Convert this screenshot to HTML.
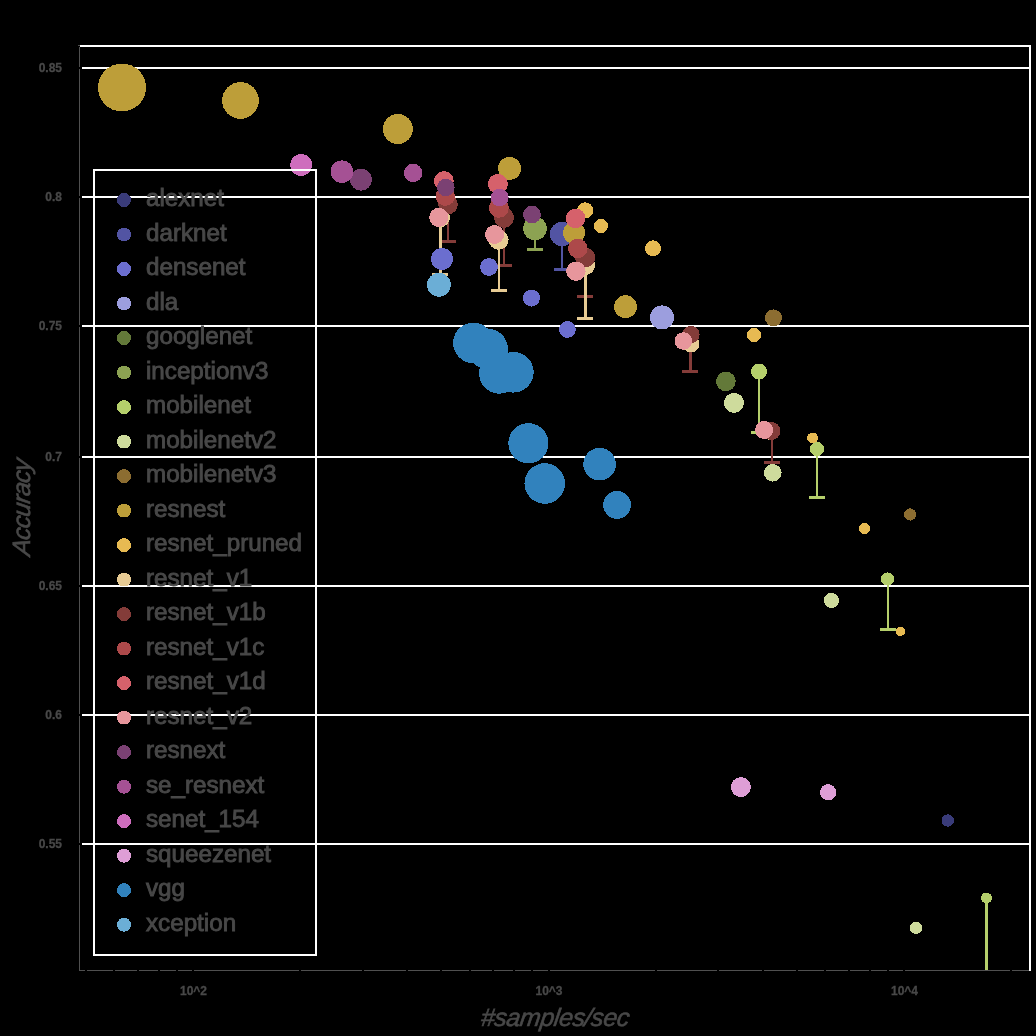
<!DOCTYPE html><html><head><meta charset="utf-8"><style>html,body{margin:0;padding:0;background:#000;overflow:hidden}svg{display:block;will-change:transform}text{font-family:"Liberation Sans",sans-serif}</style></head><body>
<svg width="1036" height="1036" viewBox="0 0 1036 1036">
<rect x="0" y="0" width="1036" height="1036" fill="#000"/>
<g shape-rendering="crispEdges">
<rect x="82" y="67" width="947" height="2" fill="#fff"/>
<rect x="82" y="196" width="947" height="2" fill="#fff"/>
<rect x="82" y="325" width="947" height="2" fill="#fff"/>
<rect x="82" y="456" width="947" height="2" fill="#fff"/>
<rect x="82" y="585" width="947" height="2" fill="#fff"/>
<rect x="82" y="714" width="947" height="2" fill="#fff"/>
<rect x="82" y="843" width="947" height="2" fill="#fff"/>
<rect x="80" y="45" width="951" height="2" fill="#fff"/>
<rect x="78" y="45" width="2" height="1" fill="#505050"/>
<rect x="1029" y="45" width="2" height="926" fill="#fff"/>
<rect x="79" y="47" width="1" height="924" fill="#505050"/>
<rect x="79" y="67" width="1" height="2" fill="#000"/>
<rect x="79" y="196" width="1" height="2" fill="#000"/>
<rect x="79" y="325" width="1" height="2" fill="#000"/>
<rect x="79" y="456" width="1" height="2" fill="#000"/>
<rect x="79" y="585" width="1" height="2" fill="#000"/>
<rect x="79" y="714" width="1" height="2" fill="#000"/>
<rect x="79" y="843" width="1" height="2" fill="#000"/>
<rect x="79" y="970" width="950" height="1" fill="#505050"/>
<rect x="85" y="970" width="2" height="1" fill="#000"/>
<rect x="113" y="970" width="2" height="1" fill="#000"/>
<rect x="137" y="970" width="2" height="1" fill="#000"/>
<rect x="158" y="970" width="2" height="1" fill="#000"/>
<rect x="176" y="970" width="2" height="1" fill="#000"/>
<rect x="192" y="970" width="2" height="1" fill="#000"/>
<rect x="299" y="970" width="2" height="1" fill="#000"/>
<rect x="362" y="970" width="2" height="1" fill="#000"/>
<rect x="406" y="970" width="2" height="1" fill="#000"/>
<rect x="440" y="970" width="2" height="1" fill="#000"/>
<rect x="469" y="970" width="2" height="1" fill="#000"/>
<rect x="492" y="970" width="2" height="1" fill="#000"/>
<rect x="513" y="970" width="2" height="1" fill="#000"/>
<rect x="531" y="970" width="2" height="1" fill="#000"/>
<rect x="548" y="970" width="2" height="1" fill="#000"/>
<rect x="655" y="970" width="2" height="1" fill="#000"/>
<rect x="717" y="970" width="2" height="1" fill="#000"/>
<rect x="762" y="970" width="2" height="1" fill="#000"/>
<rect x="796" y="970" width="2" height="1" fill="#000"/>
<rect x="824" y="970" width="2" height="1" fill="#000"/>
<rect x="848" y="970" width="2" height="1" fill="#000"/>
<rect x="869" y="970" width="2" height="1" fill="#000"/>
<rect x="887" y="970" width="2" height="1" fill="#000"/>
<rect x="903" y="970" width="2" height="1" fill="#000"/>
<rect x="1010" y="970" width="2" height="1" fill="#000"/>
</g>
<text x="62" y="72.3" font-size="12" text-anchor="end" fill="#484848" stroke="#484848" stroke-width="0.3" font-weight="bold">0.85</text>
<text x="62" y="201.3" font-size="12" text-anchor="end" fill="#484848" stroke="#484848" stroke-width="0.3" font-weight="bold">0.8</text>
<text x="62" y="330.3" font-size="12" text-anchor="end" fill="#484848" stroke="#484848" stroke-width="0.3" font-weight="bold">0.75</text>
<text x="62" y="461.3" font-size="12" text-anchor="end" fill="#484848" stroke="#484848" stroke-width="0.3" font-weight="bold">0.7</text>
<text x="62" y="590.3" font-size="12" text-anchor="end" fill="#484848" stroke="#484848" stroke-width="0.3" font-weight="bold">0.65</text>
<text x="62" y="719.3" font-size="12" text-anchor="end" fill="#484848" stroke="#484848" stroke-width="0.3" font-weight="bold">0.6</text>
<text x="62" y="848.3" font-size="12" text-anchor="end" fill="#484848" stroke="#484848" stroke-width="0.3" font-weight="bold">0.55</text>
<text x="193.5" y="995" font-size="12" text-anchor="middle" fill="#484848" stroke="#484848" stroke-width="0.3" font-weight="bold">10^2</text>
<text x="549.0" y="995" font-size="12" text-anchor="middle" fill="#484848" stroke="#484848" stroke-width="0.3" font-weight="bold">10^3</text>
<text x="904.5" y="995" font-size="12" text-anchor="middle" fill="#484848" stroke="#484848" stroke-width="0.3" font-weight="bold">10^4</text>
<text transform="translate(554,1026) skewX(-8)" x="0" y="0" font-size="25" letter-spacing="-0.4" font-style="italic" text-anchor="middle" fill="#484848" stroke="#484848" stroke-width="0.6">#samples/sec</text>
<text transform="translate(30,508.5) rotate(-90) skewX(-8)" x="0" y="0" font-size="25" letter-spacing="-0.85" font-style="italic" text-anchor="middle" fill="#484848" stroke="#484848" stroke-width="0.6">Accuracy</text>
<g shape-rendering="crispEdges">
<rect x="447.0" y="204.5" width="2.4" height="37.0" fill="#843c39"/>
<rect x="440.0" y="240.0" width="16" height="3" fill="#843c39"/>
<rect x="502.5" y="217.8" width="2.4" height="47.7" fill="#843c39"/>
<rect x="495.5" y="264.0" width="16" height="3" fill="#843c39"/>
<rect x="584.0" y="257.5" width="2.4" height="39.3" fill="#843c39"/>
<rect x="577.0" y="295.3" width="16" height="3" fill="#843c39"/>
<rect x="689.4" y="334.5" width="2.4" height="36.5" fill="#843c39"/>
<rect x="682.4" y="369.5" width="16" height="3" fill="#843c39"/>
<rect x="771.0" y="431.0" width="2.4" height="31.4" fill="#843c39"/>
<rect x="764.0" y="460.9" width="16" height="3" fill="#843c39"/>
<rect x="439.3" y="217.5" width="2.4" height="57.0" fill="#e7cb94"/>
<rect x="432.3" y="273.0" width="16" height="3" fill="#e7cb94"/>
<rect x="497.5" y="239.9" width="2.4" height="50.6" fill="#e7cb94"/>
<rect x="490.5" y="289.0" width="16" height="3" fill="#e7cb94"/>
<rect x="533.8" y="228.5" width="2.4" height="21.0" fill="#8ca252"/>
<rect x="526.8" y="248.0" width="16" height="3" fill="#8ca252"/>
<rect x="561.0" y="234.0" width="2.4" height="35.8" fill="#5254a3"/>
<rect x="554.0" y="268.3" width="16" height="3" fill="#5254a3"/>
<rect x="584.2" y="265.0" width="2.4" height="53.9" fill="#e7cb94"/>
<rect x="577.2" y="317.4" width="16" height="3" fill="#e7cb94"/>
<rect x="757.9" y="371.6" width="2.4" height="61.0" fill="#b5cf6b"/>
<rect x="750.9" y="431.1" width="16" height="3" fill="#b5cf6b"/>
<rect x="816.0" y="449.0" width="2.4" height="48.6" fill="#b5cf6b"/>
<rect x="809.0" y="496.1" width="16" height="3" fill="#b5cf6b"/>
<rect x="886.6" y="579.0" width="2.4" height="50.5" fill="#b5cf6b"/>
<rect x="879.6" y="628.0" width="16" height="3" fill="#b5cf6b"/>
<rect x="985.4" y="898.0" width="2.4" height="72.0" fill="#b5cf6b"/>
</g>
<g shape-rendering="crispEdges">
<circle cx="947.8" cy="820.5" r="6.2" fill="#393b79"/>
<circle cx="562" cy="234" r="12.1" fill="#5254a3"/>
<circle cx="442" cy="259" r="11" fill="#6b6ecf"/>
<circle cx="489" cy="267" r="8.9" fill="#6b6ecf"/>
<circle cx="531.5" cy="298" r="8.5" fill="#6b6ecf"/>
<circle cx="567.4" cy="329.5" r="8.4" fill="#6b6ecf"/>
<circle cx="662" cy="317.4" r="12" fill="#9c9ede"/>
<circle cx="725.9" cy="381.4" r="9.8" fill="#637939"/>
<circle cx="535" cy="228.5" r="11.8" fill="#8ca252"/>
<circle cx="759" cy="371.6" r="8" fill="#b5cf6b"/>
<circle cx="817.1" cy="449" r="7.1" fill="#b5cf6b"/>
<circle cx="887.4" cy="579" r="6.6" fill="#b5cf6b"/>
<circle cx="986.5" cy="898" r="5.5" fill="#b5cf6b"/>
<circle cx="734" cy="402.9" r="10" fill="#cedb9c"/>
<circle cx="772.8" cy="472.8" r="8.8" fill="#cedb9c"/>
<circle cx="831.5" cy="600.5" r="7.6" fill="#cedb9c"/>
<circle cx="916" cy="927.8" r="6.2" fill="#cedb9c"/>
<circle cx="773.5" cy="317.9" r="8.5" fill="#8c6d31"/>
<circle cx="910.1" cy="514.5" r="6.1" fill="#8c6d31"/>
<circle cx="122" cy="87.5" r="24" fill="#bd9e39"/>
<circle cx="240.5" cy="100.5" r="18.4" fill="#bd9e39"/>
<circle cx="397.9" cy="129" r="15" fill="#bd9e39"/>
<circle cx="509.6" cy="168.4" r="11.5" fill="#bd9e39"/>
<circle cx="574.1" cy="232.8" r="11" fill="#bd9e39"/>
<circle cx="625.5" cy="306.7" r="11.4" fill="#bd9e39"/>
<circle cx="585.1" cy="210.4" r="8.1" fill="#e7ba52"/>
<circle cx="601" cy="226" r="7" fill="#e7ba52"/>
<circle cx="653" cy="248.3" r="8" fill="#e7ba52"/>
<circle cx="754" cy="334.9" r="7.1" fill="#e7ba52"/>
<circle cx="812.6" cy="437.9" r="5.4" fill="#e7ba52"/>
<circle cx="864.5" cy="528.4" r="5.5" fill="#e7ba52"/>
<circle cx="900.5" cy="631.4" r="4.6" fill="#e7ba52"/>
<circle cx="440.3" cy="217.5" r="9.7" fill="#e7cb94"/>
<circle cx="498.7" cy="239.9" r="9.9" fill="#e7cb94"/>
<circle cx="585.1" cy="265" r="10" fill="#e7cb94"/>
<circle cx="691" cy="344" r="8.5" fill="#e7cb94"/>
<circle cx="771" cy="431" r="9" fill="#e7cb94"/>
<circle cx="448" cy="204.5" r="9.8" fill="#843c39"/>
<circle cx="504" cy="217.8" r="10" fill="#843c39"/>
<circle cx="585.1" cy="257.5" r="10" fill="#843c39"/>
<circle cx="691" cy="334.5" r="8.7" fill="#843c39"/>
<circle cx="771.5" cy="431" r="9" fill="#843c39"/>
<circle cx="445.3" cy="196.2" r="9.7" fill="#ad494a"/>
<circle cx="498.9" cy="207.9" r="9.9" fill="#ad494a"/>
<circle cx="577.8" cy="248.4" r="9.8" fill="#ad494a"/>
<circle cx="443.9" cy="181" r="9.9" fill="#d6616b"/>
<circle cx="497.9" cy="183.9" r="10" fill="#d6616b"/>
<circle cx="575.6" cy="218.4" r="9.8" fill="#d6616b"/>
<circle cx="438.8" cy="217.4" r="9.6" fill="#e7969c"/>
<circle cx="494.6" cy="234.5" r="9.5" fill="#e7969c"/>
<circle cx="575.9" cy="271.2" r="9.7" fill="#e7969c"/>
<circle cx="683.3" cy="341" r="8.8" fill="#e7969c"/>
<circle cx="764.1" cy="430" r="9" fill="#e7969c"/>
<circle cx="361" cy="179.7" r="10.9" fill="#7b4173"/>
<circle cx="445.8" cy="187.5" r="8.8" fill="#7b4173"/>
<circle cx="532" cy="214.6" r="8.9" fill="#7b4173"/>
<circle cx="341.9" cy="171.7" r="11.3" fill="#a55194"/>
<circle cx="413.2" cy="172.9" r="9.2" fill="#a55194"/>
<circle cx="499.7" cy="197.5" r="8.9" fill="#a55194"/>
<circle cx="301.2" cy="165" r="10.9" fill="#ce6dbd"/>
<circle cx="740.9" cy="787.1" r="10" fill="#de9ed6"/>
<circle cx="828.1" cy="792.3" r="8.1" fill="#de9ed6"/>
<circle cx="473.4" cy="342.9" r="20.3" fill="#3182bd"/>
<circle cx="487.6" cy="348.9" r="20.3" fill="#3182bd"/>
<circle cx="499.4" cy="373.4" r="20.3" fill="#3182bd"/>
<circle cx="513.4" cy="372.3" r="20.3" fill="#3182bd"/>
<circle cx="528.4" cy="443.3" r="20.1" fill="#3182bd"/>
<circle cx="544.8" cy="483.5" r="20.3" fill="#3182bd"/>
<circle cx="599.6" cy="464.2" r="16.3" fill="#3182bd"/>
<circle cx="617.1" cy="504.9" r="13.9" fill="#3182bd"/>
<circle cx="438.9" cy="284.8" r="11.9" fill="#6baed6"/>
</g>
<g shape-rendering="crispEdges" fill="#fff">
<rect x="93" y="169" width="224" height="2"/><rect x="93" y="954" width="224" height="2"/>
<rect x="93" y="169" width="2" height="787"/><rect x="315" y="169" width="2" height="787"/>
</g>
<circle cx="124" cy="200.0" r="7" fill="#393b79" shape-rendering="crispEdges"/>
<text x="146" y="206.0" font-size="24.2" fill="#484848" stroke="#484848" stroke-width="0.9">alexnet</text>
<circle cx="124" cy="234.5" r="7" fill="#5254a3" shape-rendering="crispEdges"/>
<text x="146" y="240.5" font-size="24.2" fill="#484848" stroke="#484848" stroke-width="0.9">darknet</text>
<circle cx="124" cy="269.0" r="7" fill="#6b6ecf" shape-rendering="crispEdges"/>
<text x="146" y="275.0" font-size="24.2" fill="#484848" stroke="#484848" stroke-width="0.9">densenet</text>
<circle cx="124" cy="303.5" r="7" fill="#9c9ede" shape-rendering="crispEdges"/>
<text x="146" y="309.5" font-size="24.2" fill="#484848" stroke="#484848" stroke-width="0.9">dla</text>
<circle cx="124" cy="338.0" r="7" fill="#637939" shape-rendering="crispEdges"/>
<text x="146" y="344.0" font-size="24.2" fill="#484848" stroke="#484848" stroke-width="0.9">googlenet</text>
<circle cx="124" cy="372.5" r="7" fill="#8ca252" shape-rendering="crispEdges"/>
<text x="146" y="378.5" font-size="24.2" fill="#484848" stroke="#484848" stroke-width="0.9">inceptionv3</text>
<circle cx="124" cy="407.1" r="7" fill="#b5cf6b" shape-rendering="crispEdges"/>
<text x="146" y="413.1" font-size="24.2" fill="#484848" stroke="#484848" stroke-width="0.9">mobilenet</text>
<circle cx="124" cy="441.6" r="7" fill="#cedb9c" shape-rendering="crispEdges"/>
<text x="146" y="447.6" font-size="24.2" fill="#484848" stroke="#484848" stroke-width="0.9">mobilenetv2</text>
<circle cx="124" cy="476.1" r="7" fill="#8c6d31" shape-rendering="crispEdges"/>
<text x="146" y="482.1" font-size="24.2" fill="#484848" stroke="#484848" stroke-width="0.9">mobilenetv3</text>
<circle cx="124" cy="510.6" r="7" fill="#bd9e39" shape-rendering="crispEdges"/>
<text x="146" y="516.6" font-size="24.2" fill="#484848" stroke="#484848" stroke-width="0.9">resnest</text>
<circle cx="124" cy="545.1" r="7" fill="#e7ba52" shape-rendering="crispEdges"/>
<text x="146" y="551.1" font-size="24.2" fill="#484848" stroke="#484848" stroke-width="0.9">resnet_pruned</text>
<circle cx="124" cy="579.6" r="7" fill="#e7cb94" shape-rendering="crispEdges"/>
<text x="146" y="585.6" font-size="24.2" fill="#484848" stroke="#484848" stroke-width="0.9">resnet_v1</text>
<circle cx="124" cy="614.1" r="7" fill="#843c39" shape-rendering="crispEdges"/>
<text x="146" y="620.1" font-size="24.2" fill="#484848" stroke="#484848" stroke-width="0.9">resnet_v1b</text>
<circle cx="124" cy="648.6" r="7" fill="#ad494a" shape-rendering="crispEdges"/>
<text x="146" y="654.6" font-size="24.2" fill="#484848" stroke="#484848" stroke-width="0.9">resnet_v1c</text>
<circle cx="124" cy="683.1" r="7" fill="#d6616b" shape-rendering="crispEdges"/>
<text x="146" y="689.1" font-size="24.2" fill="#484848" stroke="#484848" stroke-width="0.9">resnet_v1d</text>
<circle cx="124" cy="717.6" r="7" fill="#e7969c" shape-rendering="crispEdges"/>
<text x="146" y="723.6" font-size="24.2" fill="#484848" stroke="#484848" stroke-width="0.9">resnet_v2</text>
<circle cx="124" cy="752.2" r="7" fill="#7b4173" shape-rendering="crispEdges"/>
<text x="146" y="758.2" font-size="24.2" fill="#484848" stroke="#484848" stroke-width="0.9">resnext</text>
<circle cx="124" cy="786.7" r="7" fill="#a55194" shape-rendering="crispEdges"/>
<text x="146" y="792.7" font-size="24.2" fill="#484848" stroke="#484848" stroke-width="0.9">se_resnext</text>
<circle cx="124" cy="821.2" r="7" fill="#ce6dbd" shape-rendering="crispEdges"/>
<text x="146" y="827.2" font-size="24.2" fill="#484848" stroke="#484848" stroke-width="0.9">senet_154</text>
<circle cx="124" cy="855.7" r="7" fill="#de9ed6" shape-rendering="crispEdges"/>
<text x="146" y="861.7" font-size="24.2" fill="#484848" stroke="#484848" stroke-width="0.9">squeezenet</text>
<circle cx="124" cy="890.2" r="7" fill="#3182bd" shape-rendering="crispEdges"/>
<text x="146" y="896.2" font-size="24.2" fill="#484848" stroke="#484848" stroke-width="0.9">vgg</text>
<circle cx="124" cy="924.7" r="7" fill="#6baed6" shape-rendering="crispEdges"/>
<text x="146" y="930.7" font-size="24.2" fill="#484848" stroke="#484848" stroke-width="0.9">xception</text>
</svg></body></html>
